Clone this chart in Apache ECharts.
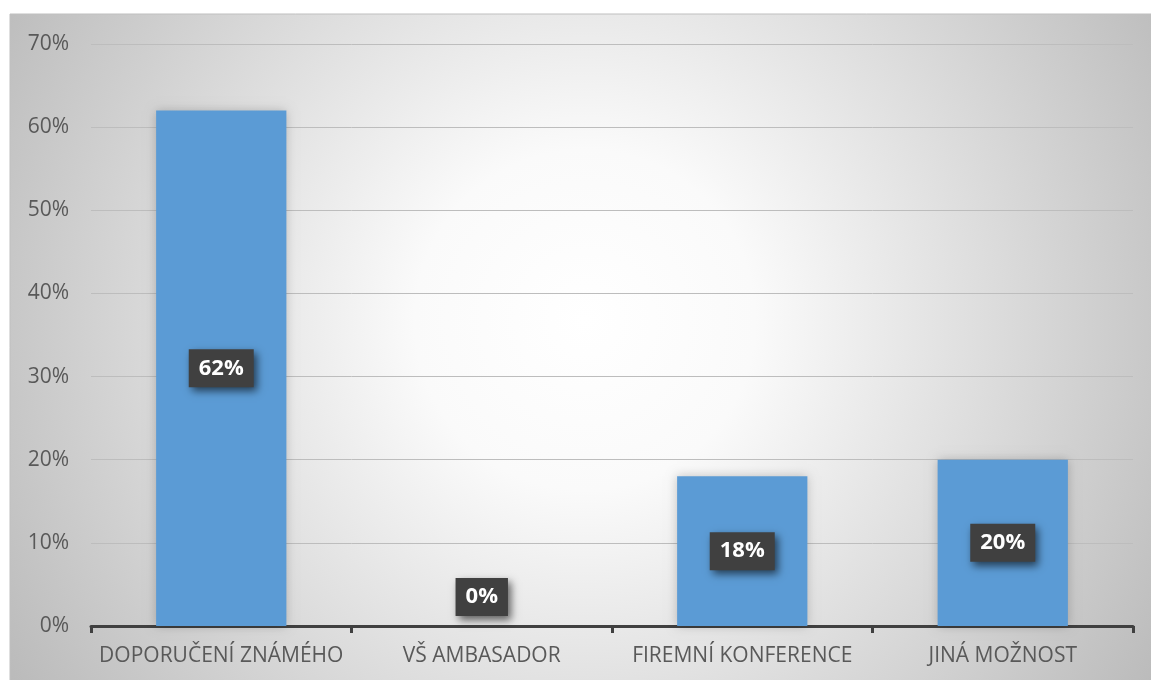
<!DOCTYPE html>
<html>
<head>
<meta charset="utf-8">
<script src="https://cdn.jsdelivr.net/npm/echarts@6/dist/echarts.min.js"></script>
<style>
  html, body { margin: 0; padding: 0; background: #fff; }
  #main { width: 1151px; height: 680px; }
</style>
</head>
<body>
<div id="main"></div>
<script>
var categories = ['DOPORUČENÍ ZNÁMÉHO', 'VŠ AMBASADOR', 'FIREMNÍ KONFERENCE', 'JINÁ MOŽNOST'];
var values = [62, 0, 18, 20];
var yTicks = [0, 10, 20, 30, 40, 50, 60, 70];

var chartDom = document.getElementById('main');
var myChart = echarts.init(chartDom);
var option;

var labelBox = {
  show: true,
  position: 'inside',
  formatter: '{c}%',
  color: '#fff',
  fontFamily: 'Open Sans',
  fontWeight: 'bold',
  fontSize: 22,
  lineHeight: 24,
  backgroundColor: '#404040',
  padding: [7, 10, 7, 10],
  shadowColor: 'rgba(0,0,0,0.6)',
  shadowBlur: 8,
  shadowOffsetX: 3,
  shadowOffsetY: 4
};

option = {
  animation: false,
  graphic: [
    {
      type: 'rect',
      z: -10,
      silent: true,
      shape: { x: 10, y: 14, width: 1150, height: 680 },
      style: {
        fill: new echarts.graphic.RadialGradient(0.5, 0.45, 1, [
          { offset: 0, color: '#ffffff' },
          { offset: 0.25, color: '#fafafa' },
          { offset: 1, color: '#bababa' }
        ]),
        stroke: '#bfbfbf',
        lineWidth: 1
      }
    }
  ],
  grid: { left: 91, right: 18, top: 44, bottom: 54 },
  xAxis: {
    type: 'category',
    data: categories,
    axisLine: { lineStyle: { color: '#404040', width: 3 } },
    axisTick: { show: true, length: 7, lineStyle: { color: '#404040', width: 3 } },
    axisLabel: { color: '#595959', fontFamily: 'Open Sans', fontSize: 21, margin: 20, interval: 0 }
  },
  yAxis: {
    type: 'value',
    min: yTicks[0],
    max: yTicks[yTicks.length - 1],
    interval: 10,
    axisLine: { show: false },
    axisTick: { show: false },
    axisLabel: { color: '#595959', fontFamily: 'Open Sans', fontSize: 21, margin: 22, formatter: '{value}%' },
    splitLine: { lineStyle: { color: '#bdbdbd', width: 1 } }
  },
  series: [
    {
      type: 'bar',
      barCategoryGap: '50%',
      data: values.map(function (v) {
        if (v === 0) {
          return { value: v, label: Object.assign({}, labelBox, { position: 'top', distance: 10 }) };
        }
        return v;
      }),
      itemStyle: {
        color: '#5b9bd5',
        shadowColor: 'rgba(0,0,0,0.22)',
        shadowBlur: 10
      },
      label: labelBox
    }
  ]
};

option && myChart.setOption(option);
</script>
</body>
</html>
